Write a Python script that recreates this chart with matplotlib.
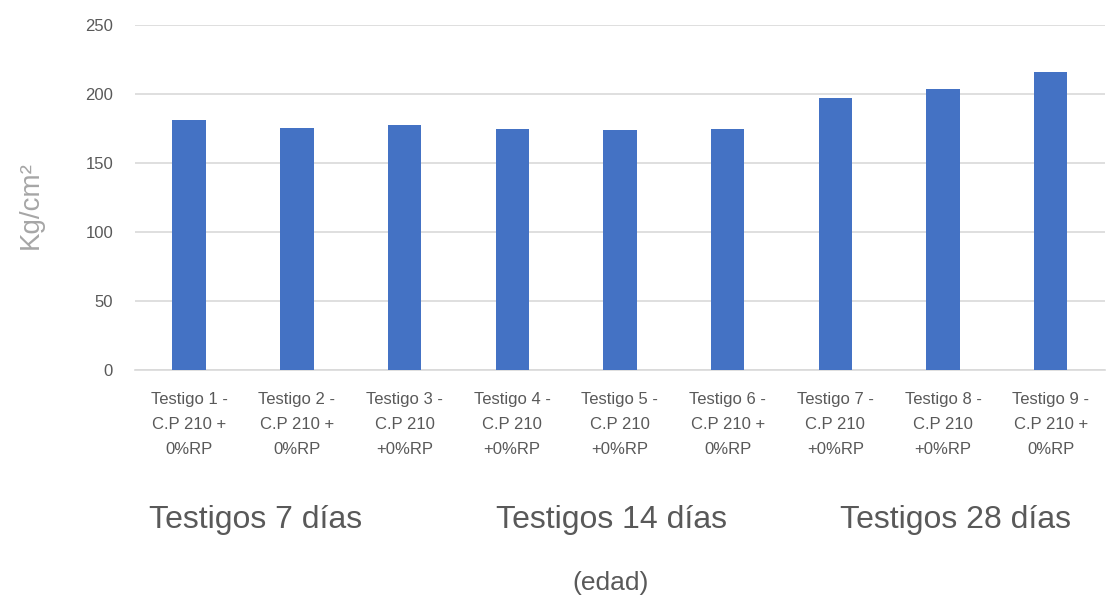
import matplotlib.pyplot as plt
import numpy as np

# category labels and compressive strength values (Kg/cm2)
labels = [
    "Testigo 1 -\nC.P 210 +\n0%RP",
    "Testigo 2 -\nC.P 210 +\n0%RP",
    "Testigo 3 -\nC.P 210\n+0%RP",
    "Testigo 4 -\nC.P 210\n+0%RP",
    "Testigo 5 -\nC.P 210\n+0%RP",
    "Testigo 6 -\nC.P 210 +\n0%RP",
    "Testigo 7 -\nC.P 210\n+0%RP",
    "Testigo 8 -\nC.P 210\n+0%RP",
    "Testigo 9 -\nC.P 210 +\n0%RP",
]
values = [181, 175.5, 178, 175, 174, 175, 197.5, 203.5, 216]
groups = ["Testigos 7 días", "Testigos 14 días", "Testigos 28 días"]
group_pos = [0.62, 3.92, 7.12]

plt.rcParams['font.family'] = ['Liberation Sans', 'DejaVu Sans']

fig = plt.figure(figsize=(11.18, 6.02), dpi=100)
ax = fig.add_axes([0.121, 0.385, 0.867, 0.573])

x = np.arange(len(values))
ax.bar(x, values, width=0.31, color='#4472c4', zorder=3)

ax.set_xlim(-0.5, len(values) - 0.5)
ax.set_ylim(0, 250)
ax.set_yticks(np.arange(0, 251, 50))
ax.grid(axis='y', color='#d9d9d9', linewidth=1.2, zorder=0)
for s in ['top', 'right', 'left']:
    ax.spines[s].set_visible(False)
ax.spines['bottom'].set_color('#d9d9d9')
ax.spines['bottom'].set_linewidth(1.2)
ax.tick_params(length=0, colors='#595959')
ax.tick_params(axis='y', pad=16, labelsize=12)
ax.tick_params(axis='x', pad=16)
ax.set_xticks(x)
ax.set_xticklabels(labels, fontsize=12, color='#595959', linespacing=1.8)

ax.set_ylabel("Kg/cm²", fontsize=20, color='#a6a6a6')
ax.yaxis.set_label_coords(-0.094, 0.478)

for g, p in zip(groups, group_pos):
    ax.text(p, -0.435, g, transform=ax.get_xaxis_transform(), ha='center',
            va='center', fontsize=23, color='#595959')

ax.text(0.49, -0.617, "(edad)", transform=ax.transAxes, ha='center', va='center',
        fontsize=19, color='#595959')

fig.savefig('out.png', dpi=100)
